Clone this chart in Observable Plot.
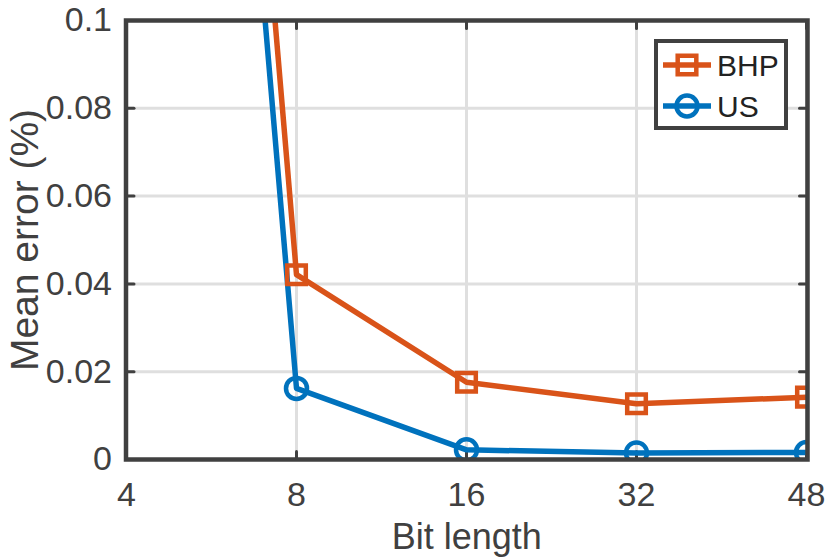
<!DOCTYPE html>
<html>
<head>
<meta charset="utf-8">
<script src="https://cdn.jsdelivr.net/npm/d3@7"></script>
<script src="https://cdn.jsdelivr.net/npm/@observablehq/plot@0.6"></script>
<style>
  html, body { margin: 0; padding: 0; background: #fff; }
  #wrap { position: relative; width: 831px; height: 559px; overflow: hidden; }
  #legend { position: absolute; left: 0; top: 0; }
</style>
</head>
<body>
<div id="wrap"></div>
<script>
// ---- data ----
const bits = [4, 8, 16, 32, 48];
const seriesNames = ["BHP", "US"];
const bhpErr = [0.50, 0.0421, 0.0176, 0.0127, 0.0142];
const usErr  = [0.47, 0.0162, 0.0022, 0.0015, 0.0016];
const seriesColors = ["#D95319", "#0072BD"];
const seriesSymbols = ["square", "circle"];
const yTicks = [0, 0.02, 0.04, 0.06, 0.08, 0.1];
const xLabel = "Bit length";
const yLabel = "Mean error (%)";

const rows = [];
bits.forEach((b, i) => {
  rows.push({bit: b, err: bhpErr[i], series: "BHP"});
  rows.push({bit: b, err: usErr[i], series: "US"});
});

const axisColor = "#404040";
const gridColor = "#dfdfdf";
const tickShape = { draw(ctx, l) { ctx.moveTo(0, 0); ctx.lineTo(0, -l); } };

const chart = Plot.plot({
  width: 831,
  height: 559,
  marginLeft: 125.5,
  marginRight: 24,
  marginTop: 20,
  marginBottom: 100,
  style: { fontFamily: "'Liberation Sans', Arial, Helvetica, sans-serif", background: "#fff", color: axisColor },
  x: { type: "point", domain: bits, padding: 0 },
  y: { domain: [0, 0.1] },
  color: { domain: seriesNames, range: seriesColors },
  symbol: { domain: seriesNames, range: seriesSymbols },
  marks: [
    Plot.gridX(bits, { stroke: gridColor, strokeOpacity: 1, strokeWidth: 3 }),
    Plot.gridY(yTicks, { stroke: gridColor, strokeOpacity: 1, strokeWidth: 3 }),
    // inner tick marks on all four sides
    Plot.vector(bits, { x: d => d, frameAnchor: "bottom", length: 8, rotate: 0, anchor: "start", shape: tickShape, stroke: axisColor, strokeWidth: 3 }),
    Plot.vector(bits, { x: d => d, frameAnchor: "top", length: 8, rotate: 180, anchor: "start", shape: tickShape, stroke: axisColor, strokeWidth: 3 }),
    Plot.vector(yTicks, { y: d => d, frameAnchor: "left", length: 8, rotate: 90, anchor: "start", shape: tickShape, stroke: axisColor, strokeWidth: 3 }),
    Plot.vector(yTicks, { y: d => d, frameAnchor: "right", length: 8, rotate: -90, anchor: "start", shape: tickShape, stroke: axisColor, strokeWidth: 3 }),
    Plot.lineY(rows, { x: "bit", y: "err", z: "series", stroke: "series", strokeWidth: 5.5, clip: true }),
    Plot.dot(rows, { x: "bit", y: "err", stroke: "series", symbol: "series", r: 10.5, strokeWidth: 4.5, fill: "none", clip: true }),
    Plot.frame({ stroke: axisColor, strokeWidth: 4.5 }),
    Plot.axisX({ ticks: bits, tickSize: 0, tickPadding: 22, fontSize: 34, fill: axisColor, label: null }),
    Plot.axisY({ ticks: yTicks, tickSize: 0, tickPadding: 14, fontSize: 34, fill: axisColor, label: null, tickFormat: d3.format("~g") }),
    Plot.text([xLabel], { text: d => d, frameAnchor: "bottom", dy: 89, lineAnchor: "bottom", fontSize: 36, fill: axisColor }),
    Plot.text([yLabel], { text: d => d, frameAnchor: "left", dx: -100, rotate: -90, textAnchor: "middle", lineAnchor: "middle", fontSize: 39, fill: axisColor })
  ]
});

const wrap = document.getElementById("wrap");
wrap.appendChild(chart);

// ---- legend overlay (box inside the plot, upper right) ----
const lg = d3.select(wrap).append("svg")
  .attr("id", "legend")
  .attr("width", 831).attr("height", 559)
  .style("font-family", "'Liberation Sans', Arial, Helvetica, sans-serif");
lg.append("rect")
  .attr("x", 656).attr("y", 41).attr("width", 130).attr("height", 87)
  .attr("fill", "#fff").attr("stroke", axisColor).attr("stroke-width", 4);
const entryY = [65, 106];
seriesNames.forEach((name, i) => {
  const g = lg.append("g");
  g.append("line").attr("x1", 663).attr("x2", 711).attr("y1", entryY[i]).attr("y2", entryY[i])
    .attr("stroke", seriesColors[i]).attr("stroke-width", 5.5);
  const sym = d3.symbol(seriesSymbols[i] === "square" ? d3.symbolSquare : d3.symbolCircle, Math.PI * 10.5 * 10.5);
  g.append("path").attr("d", sym()).attr("transform", `translate(687,${entryY[i]})`)
    .attr("fill", "none").attr("stroke", seriesColors[i]).attr("stroke-width", 4.5);
  g.append("text").attr("x", 717).attr("y", entryY[i]).attr("dy", "0.36em")
    .attr("font-size", 30).attr("fill", "#222").text(name);
});
</script>
</body>
</html>
